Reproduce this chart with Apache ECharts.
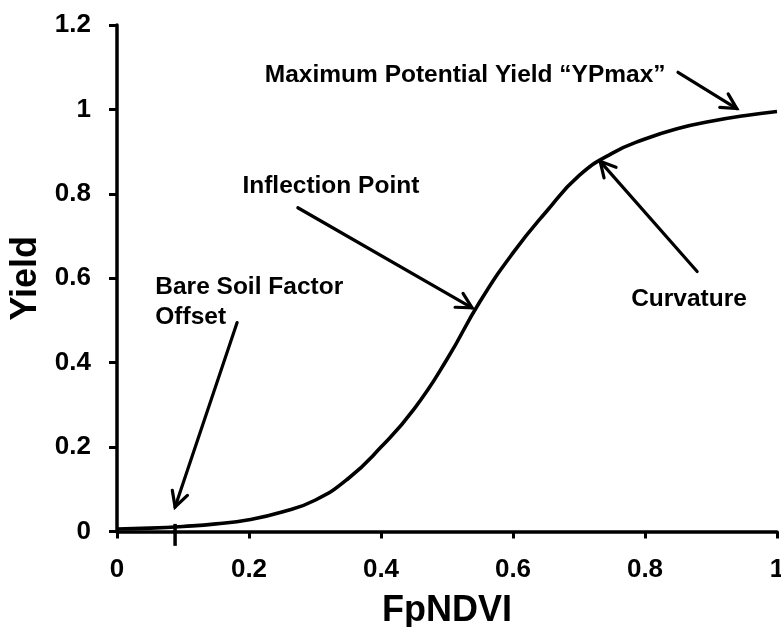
<!DOCTYPE html>
<html>
<head>
<meta charset="utf-8">
<script src="https://cdn.jsdelivr.net/npm/echarts@6/dist/echarts.min.js"></script>
<style>
  html, body { margin: 0; padding: 0; background: #fff; }
  #chart { width: 781px; height: 627px; }
</style>
</head>
<body>
<div id="chart"></div>
<script>
// Sigmoid yield response curve: FpNDVI vs. relative yield
const fpNdvi = [0, 0.05, 0.1, 0.15, 0.2, 0.25, 0.3, 0.35, 0.4, 0.45, 0.5,
                0.55, 0.6, 0.65, 0.7, 0.75, 0.8, 0.85, 0.9, 0.95, 1.0];
const yieldValues = [0.006, 0.008, 0.012, 0.018, 0.028, 0.046, 0.074, 0.125, 0.2, 0.29, 0.408,
                     0.545, 0.66, 0.757, 0.843, 0.896, 0.93, 0.955, 0.972, 0.985, 0.995];

// Bare soil offset marker on the x axis
const bareSoilX = 0.088;
const bareSoilTick = [[bareSoilX, 0.018], [bareSoilX, -0.034]];

// Annotation arrows: [fromX, fromY, toX, toY] (arrow head at "to")
const arrows = [
  [0.850, 1.088, 0.939, 1.002],   // YPmax
  [0.274, 0.767, 0.538, 0.530],   // Inflection point
  [0.879, 0.616, 0.732, 0.877],   // Curvature
  [0.182, 0.495, 0.088, 0.058]    // Bare soil factor offset
];

// Annotation texts: [x, y, text] (left edge, vertical middle)
const notes = [
  [0.224, 1.081, 'Maximum Potential Yield \u201cYPmax\u201d'],
  [0.190, 0.817, 'Inflection Point'],
  [0.779, 0.551, 'Curvature'],
  [0.058, 0.544, 'Bare Soil Factor\nOffset']
];

const xTicks = { min: 0, max: 1, interval: 0.2 };
const yTicks = { min: 0, max: 1.2, interval: 0.2 };

const FONT = '"Liberation Sans", Arial, sans-serif';
const INK = '#000000';

const chart = echarts.init(document.getElementById('chart'), null, { renderer: 'canvas' });

function renderArrow(params, api) {
  const p1 = api.coord([api.value(0), api.value(1)]);
  const p2 = api.coord([api.value(2), api.value(3)]);
  const ang = Math.atan2(p1[1] - p2[1], p1[0] - p2[0]);
  const len = 17, half = 28 * Math.PI / 180;
  const a1 = [p2[0] + len * Math.cos(ang + half), p2[1] + len * Math.sin(ang + half)];
  const a2 = [p2[0] + len * Math.cos(ang - half), p2[1] + len * Math.sin(ang - half)];
  const style = { stroke: INK, lineWidth: 3.2, fill: null, lineCap: 'round', lineJoin: 'miter' };
  return {
    type: 'group',
    children: [
      { type: 'line', shape: { x1: p1[0], y1: p1[1], x2: p2[0], y2: p2[1] }, style: style },
      { type: 'polyline', shape: { points: [a1, p2, a2] }, style: style }
    ]
  };
}

function renderNote(params, api) {
  const p = api.coord([api.value(0), api.value(1)]);
  const text = notes[params.dataIndex][2];
  return {
    type: 'text',
    x: p[0],
    y: p[1],
    style: {
      text: text,
      fill: INK,
      font: 'bold 24.5px ' + FONT,
      lineHeight: 30,
      align: 'left',
      verticalAlign: 'middle'
    }
  };
}

chart.setOption({
  animation: false,
  backgroundColor: '#ffffff',
  grid: { left: 117, right: 4, top: 25, bottom: 95.5, containLabel: false, outerBoundsMode: 'none' },
  xAxis: {
    type: 'value',
    min: xTicks.min, max: xTicks.max, interval: xTicks.interval,
    name: 'FpNDVI',
    nameLocation: 'middle',
    nameGap: 62,
    nameTextStyle: { fontFamily: FONT, fontWeight: 'bold', fontSize: 36, color: INK },
    axisLine: { show: true, onZero: false, lineStyle: { color: INK, width: 3.5 } },
    axisTick: { show: true, inside: false, length: 7, lineStyle: { color: INK, width: 3 } },
    axisLabel: { margin: 25, fontFamily: FONT, fontWeight: 'bold', fontSize: 26, color: INK },
    splitLine: { show: false }
  },
  yAxis: {
    type: 'value',
    min: yTicks.min, max: yTicks.max, interval: yTicks.interval,
    name: 'Yield',
    nameLocation: 'middle',
    nameGap: 72,
    nameRotate: 90,
    nameTextStyle: { fontFamily: FONT, fontWeight: 'bold', fontSize: 36, color: INK },
    axisLine: { show: true, lineStyle: { color: INK, width: 3.5 } },
    axisTick: { show: true, inside: false, length: 8, lineStyle: { color: INK, width: 3 } },
    axisLabel: { margin: 26, fontFamily: FONT, fontWeight: 'bold', fontSize: 26, color: INK },
    splitLine: { show: false }
  },
  series: [
    {
      name: 'Yield',
      type: 'line',
      data: fpNdvi.map((x, i) => [x, yieldValues[i]]),
      smooth: 0.5,
      showSymbol: false,
      symbol: 'none',
      clip: false,
      lineStyle: { color: INK, width: 3.6 },
      z: 3
    },
    {
      name: 'Bare soil offset',
      type: 'line',
      data: bareSoilTick,
      showSymbol: false,
      symbol: 'none',
      clip: false,
      lineStyle: { color: INK, width: 3.5 },
      z: 4
    },
    {
      name: 'Arrows',
      type: 'custom',
      data: arrows,
      renderItem: renderArrow,
      encode: { x: [0, 2], y: [1, 3] },
      clip: false,
      z: 5
    },
    {
      name: 'Notes',
      type: 'custom',
      data: notes.map(n => [n[0], n[1]]),
      renderItem: renderNote,
      encode: { x: 0, y: 1 },
      clip: false,
      silent: true,
      z: 6
    }
  ]
});
</script>
</body>
</html>
